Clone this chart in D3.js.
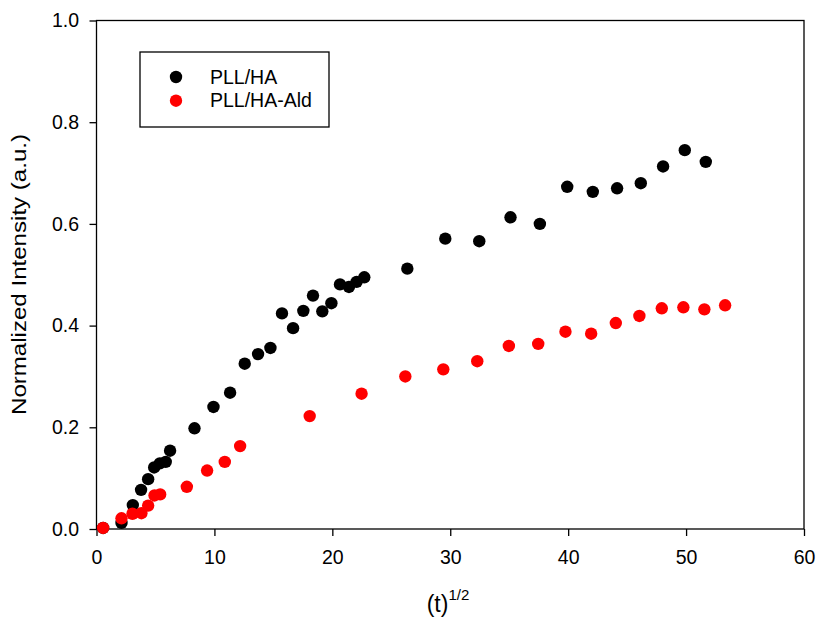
<!DOCTYPE html>
<html><head><meta charset="utf-8">
<script src="https://cdn.jsdelivr.net/npm/d3@7"></script>
<style>body{margin:0;background:#fff;} text{font-family:"Liberation Sans",Arial,sans-serif;fill:#000;}</style>
</head><body><svg id="c" width="817" height="617"></svg>
<script>
const pllHaX = [0.56, 2.12, 3.08, 3.78, 4.38, 4.89, 5.37, 5.87, 6.24, 8.31, 9.92, 11.33, 12.57, 13.70, 14.75, 15.73, 16.67, 17.54, 18.36, 19.15, 19.92, 20.65, 21.41, 22.06, 22.71, 26.36, 29.58, 32.46, 35.11, 37.6, 39.92, 42.09, 44.15, 46.16, 48.05, 49.89, 51.67];
const pllHaY = [0.002, 0.012, 0.047, 0.077, 0.098, 0.121, 0.129, 0.132, 0.154, 0.198, 0.240, 0.268, 0.325, 0.344, 0.356, 0.424, 0.395, 0.429, 0.459, 0.428, 0.444, 0.481, 0.476, 0.486, 0.495, 0.512, 0.571, 0.566, 0.613, 0.600, 0.673, 0.663, 0.670, 0.680, 0.713, 0.745, 0.722];
const pllHaAldX = [0.56, 2.12, 3.05, 3.81, 4.38, 4.92, 5.40, 7.66, 9.38, 10.88, 12.18, 18.08, 22.48, 26.19, 29.41, 32.29, 34.97, 37.46, 39.77, 41.95, 44.04, 46.04, 47.94, 49.77, 51.55, 53.31];
const pllHaAldY = [0.002, 0.021, 0.030, 0.031, 0.046, 0.066, 0.068, 0.083, 0.115, 0.132, 0.163, 0.222, 0.266, 0.300, 0.314, 0.330, 0.360, 0.364, 0.388, 0.384, 0.405, 0.419, 0.434, 0.436, 0.432, 0.440];
const xTicks = [0, 10, 20, 30, 40, 50, 60];
const yTicks = [0.0, 0.2, 0.4, 0.6, 0.8, 1.0];
const seriesNames = ["PLL/HA", "PLL/HA-Ald"];
const seriesColors = ["#000000", "#ff0000"];

const svg = d3.select("#c");
const L = 96.5, R = 804, T = 20.5, B = 529;
const x = d3.scaleLinear().domain([0, 60]).range([L, R]);
const y = d3.scaleLinear().domain([0, 1]).range([B, T]);

// frame
svg.append("rect").attr("x", L).attr("y", T).attr("width", R - L).attr("height", B - T)
  .attr("fill", "none").attr("stroke", "#000").attr("stroke-width", 1.3);

const xAx = svg.append("g").attr("transform", `translate(0,${B})`)
  .call(d3.axisBottom(x).tickValues(xTicks).tickFormat(d3.format("d")).tickSize(7).tickPadding(14));
const yAx = svg.append("g").attr("transform", `translate(${L},0)`)
  .call(d3.axisLeft(y).tickValues(yTicks).tickFormat(d3.format(".1f")).tickSize(7).tickPadding(10.5));
[xAx, yAx].forEach(g => {
  g.attr("font-size", 19.5).attr("font-family", "Liberation Sans, Arial, sans-serif");
  g.select(".domain").remove();
  g.selectAll("line").attr("stroke", "#000").attr("stroke-width", 1.3);
  g.selectAll("text").attr("font-size", 19.5).style("font-size", "19.5px").attr("fill", "#000");
});

const series = [[pllHaX, pllHaY], [pllHaAldX, pllHaAldY]];
series.forEach((s, i) => {
  svg.append("g").selectAll("circle").data(s[0].map((v, j) => [v, s[1][j]])).join("circle")
    .attr("cx", d => x(d[0])).attr("cy", d => y(d[1])).attr("r", 6.2).attr("fill", seriesColors[i]);
});

// legend
const lg = svg.append("g");
lg.append("rect").attr("x", 140).attr("y", 52).attr("width", 189).attr("height", 75)
  .attr("fill", "#fff").attr("stroke", "#000").attr("stroke-width", 1.3);
seriesNames.forEach((n, i) => {
  lg.append("circle").attr("cx", 176).attr("cy", 77 + i * 23.7).attr("r", 6.2).attr("fill", seriesColors[i]);
  lg.append("text").attr("x", 210).attr("y", 77 + i * 23.7 + 6.5).style("font-size", "19.5px").text(n);
});

// axis titles
svg.append("text").attr("transform", "translate(26,274.5) rotate(-90)").attr("text-anchor", "middle")
  .style("font-size", "21px").attr("textLength", 281).attr("lengthAdjust", "spacingAndGlyphs")
  .text("Normalized Intensity (a.u.)");
const xt = svg.append("text").attr("x", 448).attr("y", 612).attr("text-anchor", "middle").style("font-size", "23px");
xt.append("tspan").text("(t)");
xt.append("tspan").attr("dy", -12).style("font-size", "15px").text("1/2");
</script></body></html>
